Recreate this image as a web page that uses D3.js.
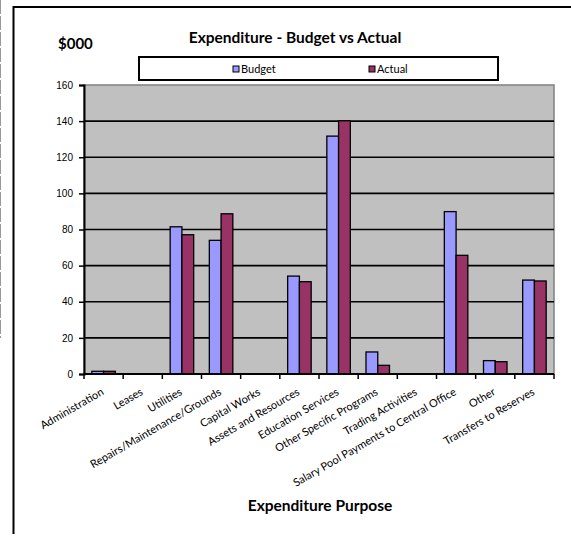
<!DOCTYPE html>
<html>
<head>
<meta charset="utf-8">
<script src="https://cdn.jsdelivr.net/npm/d3@7"></script>
<style>
  body { margin: 0; background: #fff; }
  svg { display: block; }
</style>
</head>
<body>
<svg id="chart" width="571" height="538"></svg>
<script>
// chart data
const categories = ["Administration", "Leases", "Utilities", "Repairs/Maintenance/Grounds",
  "Capital Works", "Assets and Resources", "Education Services", "Other Specific Programs",
  "Trading Activities", "Salary Pool Payments to Central Office", "Other", "Transfers to Reserves"];
const seriesNames = ["Budget", "Actual"];
const budget = [1.5, 0, 81.5, 74, 0, 54.2, 131.7, 12.2, 0, 89.9, 7.4, 52];
const actual = [1.5, 0, 77.1, 88.7, 0, 51.1, 140.2, 4.8, 0, 65.7, 6.8, 51.5];
const yTicks = [0, 20, 40, 60, 80, 100, 120, 140, 160];

const colors = { Budget: "#9999FF", Actual: "#993366" };
const calibri = "Lato, 'Open Sans', sans-serif";

const svg = d3.select("#chart");
const plotL = 84, plotR = 554, plotT = 85, plotB = 374;

// outer frame (only top and left visible)
svg.append("line").attr("x1", 0.5).attr("x2", 0.5).attr("y1", 0).attr("y2", 338)
    .attr("stroke", "#999").attr("stroke-width", 1).attr("stroke-dasharray", "14,2");
svg.append("path")
    .attr("d", "M13.5,534 L13.5,7 L571,7")
    .attr("fill", "none").attr("stroke", "#000").attr("stroke-width", 2);

const x = d3.scaleBand().domain(categories).range([plotL, plotR])
    .paddingInner(0.4).paddingOuter(0.2);
const x1 = d3.scaleBand().domain(seriesNames).range([0, x.bandwidth()]);
const y = d3.scaleLinear().domain([0, 160]).range([plotB, plotT]);

// plot area
svg.append("rect")
    .attr("x", plotL).attr("y", plotT)
    .attr("width", plotR - plotL).attr("height", plotB - plotT)
    .attr("fill", "#C0C0C0").attr("stroke", "#808080").attr("stroke-width", 1.5);

// gridlines
svg.append("g").selectAll("line")
    .data(yTicks.filter(d => d > 0 && d < 160))
    .enter().append("line")
    .attr("x1", plotL).attr("x2", plotR)
    .attr("y1", d => y(d)).attr("y2", d => y(d))
    .attr("stroke", "#000").attr("stroke-width", 1.6);

// bars
const rows = categories.map((c, i) => ({ cat: c, Budget: budget[i], Actual: actual[i] }));
const groups = svg.append("g").selectAll("g")
    .data(rows).enter().append("g")
    .attr("transform", d => "translate(" + x(d.cat) + ",0)");

groups.selectAll("rect")
    .data(d => seriesNames.map(s => ({ key: s, value: d[s] })).filter(v => v.value > 0))
    .enter().append("rect")
    .attr("x", d => x1(d.key))
    .attr("y", d => y(d.value))
    .attr("width", x1.bandwidth())
    .attr("height", d => y(0) - y(d.value))
    .attr("fill", d => colors[d.key])
    .attr("stroke", "#000").attr("stroke-width", 1.3);

// y axis
const yAxis = svg.append("g")
    .attr("transform", "translate(" + plotL + ",0)")
    .call(d3.axisLeft(y).tickValues(yTicks).tickSize(5).tickPadding(6));
yAxis.select(".domain").attr("stroke-width", 2);
yAxis.selectAll(".tick line").attr("stroke-width", 1.5);
yAxis.selectAll("text")
    .style("font-family", "'Liberation Sans', Arial, sans-serif")
    .style("font-size", "10px").attr("fill", "#000");

// x axis with ticks at band boundaries
const step = x.step();
const boundaries = d3.range(categories.length + 1).map(i => plotL + i * step);
svg.append("line").attr("x1", plotL).attr("x2", plotR)
    .attr("y1", plotB).attr("y2", plotB)
    .attr("stroke", "#000").attr("stroke-width", 2);
svg.append("g").selectAll("line")
    .data(boundaries).enter().append("line")
    .attr("x1", d => d).attr("x2", d => d)
    .attr("y1", plotB).attr("y2", plotB + 5)
    .attr("stroke", "#000").attr("stroke-width", 1.5);

svg.append("g").selectAll("text")
    .data(categories).enter().append("text")
    .attr("transform", d => "translate(" + (x(d) + x.bandwidth() / 2 + 1) + "," + (plotB + 20) + ") rotate(-30)")
    .attr("text-anchor", "end")
    .style("font-family", calibri).style("font-size", "11px")
    .text(d => d);

// titles
svg.append("text")
    .attr("x", 295).attr("y", 43)
    .attr("text-anchor", "middle")
    .style("font-family", calibri).style("font-size", "15.5px").style("font-weight", "bold")
    .text("Expenditure - Budget vs Actual");

svg.append("text")
    .attr("x", 58).attr("y", 49)
    .style("font-family", calibri).style("font-size", "15px").style("font-weight", "bold")
    .text("$000");

svg.append("text")
    .attr("x", 320).attr("y", 511)
    .attr("text-anchor", "middle")
    .style("font-family", calibri).style("font-size", "15.5px").style("font-weight", "bold")
    .text("Expenditure Purpose");

// legend
svg.append("rect")
    .attr("x", 139).attr("y", 57).attr("width", 359).attr("height", 23)
    .attr("fill", "#fff").attr("stroke", "#000").attr("stroke-width", 2);

const legend = svg.append("g").selectAll("g.legend")
    .data(seriesNames).enter().append("g")
    .attr("class", "legend")
    .attr("transform", (d, i) => "translate(" + (233 + i * 136) + ",66)");

legend.append("rect")
    .attr("width", 6).attr("height", 6)
    .attr("fill", d => colors[d]).attr("stroke", "#000").attr("stroke-width", 1);
legend.append("text")
    .attr("x", 8).attr("y", 6.5)
    .style("font-family", calibri).style("font-size", "11px")
    .text(d => d);
</script>
</body>
</html>
